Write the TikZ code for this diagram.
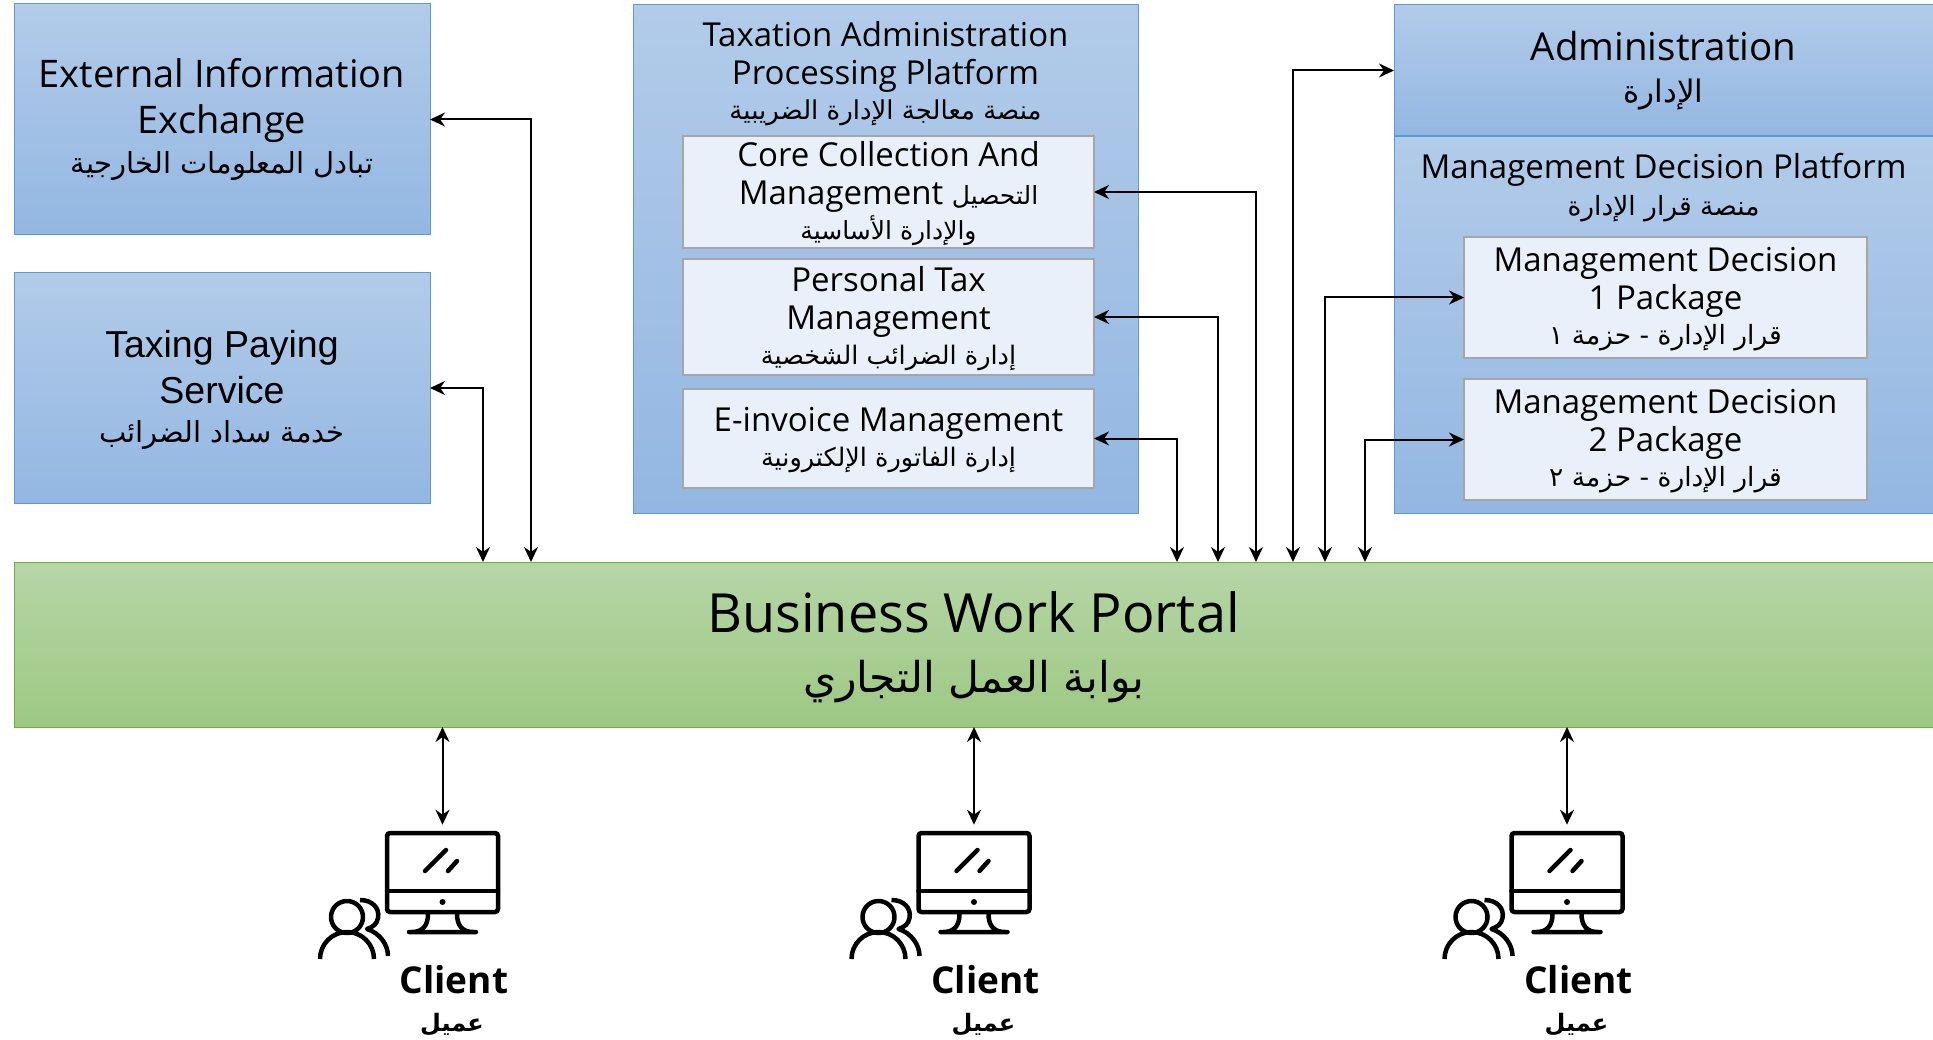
\documentclass[tikz,border=0pt]{standalone}
\usepackage{fontspec}
\setmainfont{Open Sans}
\newfontfamily\payfont{Liberation Sans}
\newfontfamily\arabicfont[Script=Arabic]{DejaVu Sans}
\TeXXeTstate=1
\usepackage{xcolor}
\usetikzlibrary{positioning}
\usetikzlibrary{arrows.meta}
\definecolor{bluetop}{HTML}{B2CBE9}
\definecolor{bluebot}{HTML}{93B7E2}
\definecolor{blueline}{HTML}{5B9BD5}
\definecolor{greentop}{HTML}{B6D6A6}
\definecolor{greenbot}{HTML}{9DC883}
\definecolor{greenline}{HTML}{70AD47}
\definecolor{subfill}{HTML}{EAF0F9}
\definecolor{subline}{HTML}{A6A6A6}
\newcommand{\arsize}[1]{\fontsize{#1}{#1}\arabicfont}
\tikzset{
  bluebox/.style={draw=blueline,line width=1pt,top color=bluetop,bottom color=bluebot,
                  inner sep=0pt,outer sep=0pt,align=center},
  subbox/.style={draw=subline,line width=2pt,fill=subfill,inner sep=0pt,outer sep=0pt,
                 align=center,minimum width=411pt,text depth=3pt},
  icon/.style={-,line width=4.5pt,line cap=round,line join=round},
  elbow/.style={to path={|- (\tikztotarget)}}
}
\begin{document}
\begin{tikzpicture}[<->,>={Stealth[length=15pt,width=14pt]},x=1pt,y=-1pt,line width=2pt,
                    font=\fontsize{33}{38}\selectfont]
\useasboundingbox (0,0) rectangle (1933,1040);
\node[bluebox,anchor=north west,minimum width=416pt,minimum height=231pt,
      font=\fontsize{38}{46}\selectfont] (ext) at (14,4)
     {External Information\\Exchange\\[-6pt]{\arsize{29}\beginR تبادل المعلومات الخارجية\endR}};
\node[bluebox,below = 37.5pt of ext,minimum width=416pt,minimum height=231pt,
      font=\fontsize{37.5}{46}\payfont,text depth=4pt] (pay)
     {Taxing Paying\\Service\\[-7pt]{\arsize{29}\beginR خدمة سداد الضرائب\endR}};
\node[bluebox,anchor=north west,minimum width=505pt,minimum height=508pt] (taxplat) at (633,5) {};
\node[below = 15pt of taxplat.north,align=center,inner sep=0pt] (taxtitle)
     {Taxation Administration\\Processing Platform\\[-3pt]{\arsize{26}\beginR منصة معالجة الإدارة الضريبية\endR}};
\node[subbox,below = 131pt of taxplat.north,xshift=3pt,minimum height=112pt] (core)
     {Core Collection And\\Management {\arsize{25}\beginR التحصيل\endR}\\[-3pt]{\arsize{25}\beginR والإدارة الأساسية\endR}};
\node[subbox,below = 11pt of core,minimum height=116pt] (personal)
     {Personal Tax\\Management\\[-3pt]{\arsize{25.5}\beginR إدارة الضرائب الشخصية\endR}};
\node[subbox,below = 14pt of personal,minimum height=99pt] (einvoice)
     {E-invoice Management\\[-3pt]{\arsize{25.5}\beginR إدارة الفاتورة الإلكترونية\endR}};
\node[bluebox,anchor=north west,minimum width=539pt,minimum height=131pt,
      font=\fontsize{38.5}{44}\selectfont] (admin) at (1394,5)
     {Administration\\[-2pt]{\arsize{31}\beginR الإدارة\endR}};
\node[bluebox,below = 1pt of admin,minimum width=539pt,minimum height=376pt] (mdplat) {};
\node[below = 15pt of mdplat.north,align=center,inner sep=0pt] (mdtitle)
     {Management Decision Platform\\[-1pt]{\arsize{26.5}\beginR منصة قرار الإدارة\endR}};
\node[subbox,below = 100pt of mdplat.north,xshift=2pt,minimum width=403pt,minimum height=121pt] (pack1)
     {Management Decision\\1 Package\\[-3pt]{\arsize{26.5}\beginR قرار الإدارة - حزمة ١\endR}};
\node[subbox,below = 21pt of pack1,minimum width=403pt,minimum height=121pt] (pack2)
     {Management Decision\\2 Package\\[-3pt]{\arsize{26.5}\beginR قرار الإدارة - حزمة ٢\endR}};
\node[anchor=north west,minimum width=1919pt,minimum height=165pt,draw=greenline,line width=1pt,
      top color=greentop,bottom color=greenbot,inner sep=0pt,outer sep=0pt,align=center,
      font=\fontsize{54}{64}\selectfont,text depth=5pt] (portal) at (14,562)
     {Business Work Portal\\[-4pt]{\arsize{42.5}\beginR بوابة العمل التجاري\endR}};
\coordinate (pext) at (531,562);
\coordinate (ppay) at (483,562);
\coordinate (pcore) at (1256,562);
\coordinate (ppers) at (1218,562);
\coordinate (peinv) at (1177,562);
\coordinate (padmin) at (1293,562);
\coordinate (ppack1) at (1325,562);
\coordinate (ppack2) at (1365,562);
\path (pext) edge [elbow] (ext.east)
      (ppay) edge [elbow] (pay.east)
      (pcore) edge [elbow] (core.east)
      (ppers) edge [elbow] (personal.east)
      (peinv) edge [elbow] (einvoice.east)
      (padmin) edge [elbow] (admin.west)
      (ppack1) edge [elbow] (pack1.west)
      (ppack2) edge [elbow] (pack2.west);
\foreach \cx/\n in {0/a,531.5/b,1124.5/c}{
  \begin{scope}[xshift=\cx pt]
    \node[draw,line width=4.5pt,rounded corners=3pt,minimum width=111pt,minimum height=79pt,
          inner sep=0pt] (mon\n) at (442.5,872.5) {};
    \node[anchor=base,font=\fontsize{37}{37}\bfseries\selectfont,inner sep=0pt] (client\n) at (454,993) {Client};
    \node[inner sep=0pt] (clientar\n) at (452,1025)
         {\bfseries\arsize{24}\beginR عميل\endR};
    \draw[icon] (387,891) -- (498,891);
    \draw[icon] (425,871) -- (446,850) (448,871) -- (457,861);
    \fill (442.5,902) circle[radius=3];
    \draw[icon] (428,914) .. controls (428,925) and (423,932) .. (412,932)
                (457,914) .. controls (457,925) and (462,932) .. (473,932)
                (409,932) -- (476,932);
    \draw[icon,line cap=butt] (347,917) circle[radius=16];
    \draw[icon,line cap=butt] (320,959) arc (180:360:27);
    \draw[icon,line cap=butt] (360,900) .. controls (372,900) and (380,908) .. (378,918)
                .. controls (377,924) and (373,927) .. (367,929)
                .. controls (380,933) and (388,945) .. (388,956);
  \end{scope}
  \path (portal.south -| mon\n.north) edge [shorten >=6pt] (mon\n.north);
}
\end{tikzpicture}
\end{document}
